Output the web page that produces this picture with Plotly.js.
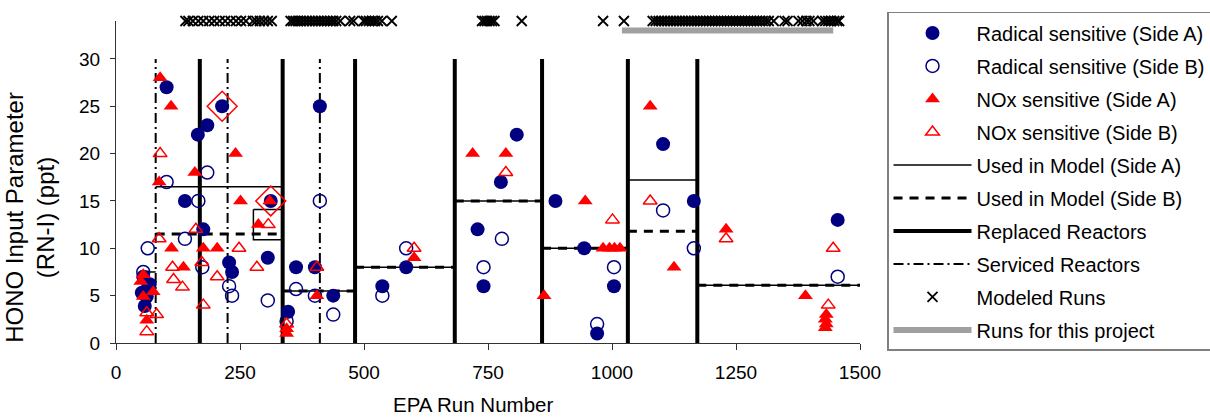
<!DOCTYPE html>
<html>
<head>
<meta charset="utf-8">
<script src="https://cdn.plot.ly/plotly-3.0.1.min.js"></script>
<style>
  html, body { margin: 0; padding: 0; background: #fff; }
  #chart { width: 1210px; height: 417px; }
</style>
</head>
<body>
<div id="chart"></div>
<script>
// HONO input parameter (ppt) by EPA run number: [run, value]
const radicalA = [[55,7],[68,6.2],[52,5.3],[62,4.9],[58,3.9],[64,5.8],
  [102,27],[214,25],[184,23],[165,22],[139,15],[312,15],[176,12],[228,8.5],[234,7.5],
  [306,9],[347,3.3],[363,8],[411,25],[401,8],[438,5],[537,6],[585,8],[808,22],[776,17],
  [729,12],[741,6],[886,15],[944,10],[1004,6],[970,1],[1103,21],[1165,15],[1455,13]];
const radicalB = [[102,17],[184,18],[166,15],[139,11],[64,10],[55,7.5],[174,8],[228,6],
  [234,5],[306,4.5],[344,2.3],[363,5.7],[411,15],[401,5],[438,3],[537,5],[585,10],
  [741,8],[778,11],[1004,8],[970,2],[1103,14],[1165,10],[1455,7]];
const noxA = [[55,7.2],[75,5.4],[55,4.9],[62,2.4],[50,6.5],
  [89,28],[111,25],[241,20],[159,18],[87,17],[251,15],[310,15],[287,12.5],[112,10],
  [176,10],[204,10],[136,8],[405,5],[344,1.5],[344,1],[601,9],[719,20],[786,20],[863,5],
  [946,15],[982,10],[995,10],[1005,10],[1016,10],[1077,25],[1125,8],[1230,12],[1390,5],
  [1432,3],[1430,2.5],[1432,2],[1430,1.6]];
const noxB = [[89,20],[87,11],[161,12],[248,10],[114,8],[116,6.7],[134,5.9],[173,8.5],
  [204,7],[176,4],[284,8],[307,12.5],[344,2],[405,8],[62,3.2],[82,3],[62,1.2],[601,10],
  [786,18],[1001,13],[1077,15],[1230,11],[1446,10],[1436,4]];
const highlighted = [[214,25],[312,15]];

// Values used in the model for each reactor period: [first run, last run, HONO]
const modelSideA = [[50,80,7.5],[80,336,16.5],[336,482,5.5],[482,683,8],[683,859,15],
  [859,1032,10],[1032,1172,17.2],[1172,1500,6.1]];
const modelSideAStep = [[277,14.1],[336,14.1],[336,10.9],[277,10.9],[277,14.1]];
const modelSideB = [[50,80,7.5],[80,336,11.5],[336,482,5.5],[482,683,8],[683,859,15],
  [859,1032,10],[1032,1172,11.8],[1172,1500,6.1]];

// Reactor events (run numbers)
const replacedReactors = [169, 336, 482, 683, 859, 1032, 1172];
const servicedReactors = [80, 225, 411];

// Runs that were modeled, and the span of runs for this project
const modeledRuns = [140,146,155,166,176,188,198,209,220,231,242,252,262,
  276,283,290,298,306,314,
  352,357,362,367,372,378,384,390,396,402,408,414,420,426,432,438,444,452,472,479,499,
  504,510,516,522,528,536,556,
  738,743,748,753,758,763,818,982,1024,
  1082,1088,1094,1100,1106,1112,1118,1124,1130,1136,1142,1148,1154,1160,1166,1172,1178,
  1184,1190,1196,1202,1208,1214,1220,1226,1232,1238,1244,1250,1256,1262,1268,1274,1280,
  1286,1292,1298,1304,1310,1316,1326,1348,1354,1376,1384,1392,1398,1406,1424,1430,1436,
  1442,1448,1454,1458];
const projectRuns = [1020, 1446];
const modeledLevel = 34;
const projectLevel = 33;
const reactorLineTop = 30;

const xs = a => a.map(p => p[0]);
const ys = a => a.map(p => p[1]);

function segments(list) {
  const x = [], y = [];
  list.forEach(s => { x.push(s[0], s[1], null); y.push(s[2], s[2], null); });
  return {x, y};
}
function verticals(list) {
  const x = [], y = [];
  list.forEach(v => { x.push(v, v, null); y.push(0, reactorLineTop, null); });
  return {x, y};
}

const NAVY = '#000080', RED = '#ff0000';
const segA = segments(modelSideA);
const stepA = {x: xs(modelSideAStep), y: ys(modelSideAStep)};
const segB = segments(modelSideB);
const rep = verticals(replacedReactors);
const serv = verticals(servicedReactors);

const traces = [
  {name: 'Serviced Reactors', x: serv.x, y: serv.y, mode: 'lines', legendrank: 8, legendgroup: 'g8',
   line: {color: '#000', width: 2, dash: '10px,4px,2px,4px'}, hoverinfo: 'skip'},
  {name: 'Replaced Reactors', x: rep.x, y: rep.y, mode: 'lines', legendrank: 7, legendgroup: 'g7',
   line: {color: '#000', width: 4}, hoverinfo: 'skip'},
  {name: 'Used in Model (Side A)', x: segA.x.concat([null], stepA.x), y: segA.y.concat([null], stepA.y),
   mode: 'lines', legendrank: 5, legendgroup: 'g5', line: {color: '#000', width: 1.5}},
  {name: 'Used in Model (Side B)', x: segB.x, y: segB.y, mode: 'lines', legendrank: 6, legendgroup: 'g6',
   line: {color: '#000', width: 3, dash: '9px,7px'}},
  {name: 'Runs for this project', x: projectRuns, y: projectRuns.map(() => projectLevel), mode: 'lines',
   legendrank: 10, legendgroup: 'g10', line: {color: '#a0a0a0', width: 6}},
  {name: 'Modeled Runs', x: modeledRuns, y: modeledRuns.map(() => modeledLevel), mode: 'markers',
   legendrank: 9, legendgroup: 'g9', cliponaxis: false,
   marker: {symbol: 'x-thin-open', size: 10, color: '#000', line: {color: '#000', width: 1.8}}},
  {name: 'Radical sensitive (Side A)', x: xs(radicalA), y: ys(radicalA), mode: 'markers',
   legendrank: 1, legendgroup: 'g1', marker: {symbol: 'circle', size: 14, color: NAVY}},
  {name: 'Radical sensitive (Side B)', x: xs(radicalB), y: ys(radicalB), mode: 'markers',
   legendrank: 2, legendgroup: 'g2',
   marker: {symbol: 'circle-open', size: 13, color: NAVY, line: {color: NAVY, width: 1.5}}},
  {name: 'NOx sensitive (Side A)', x: xs(noxA), y: ys(noxA), mode: 'markers',
   legendrank: 3, legendgroup: 'g3', marker: {symbol: 'triangle-up', size: 13, color: RED}},
  {name: 'NOx sensitive (Side B)', x: xs(noxB), y: ys(noxB), mode: 'markers',
   legendrank: 4, legendgroup: 'g4',
   marker: {symbol: 'triangle-up-open', size: 12, color: RED, line: {color: RED, width: 1.5}}},
  {name: 'Highlighted', x: xs(highlighted), y: ys(highlighted), mode: 'markers', showlegend: false,
   marker: {symbol: 'diamond-open', size: 23, color: RED, line: {color: RED, width: 1.5}}}
];

const FONT = 'Arial, "Liberation Sans", sans-serif';

const layout = {
  width: 1210, height: 417,
  paper_bgcolor: '#fff', plot_bgcolor: '#fff',
  font: {family: FONT, size: 19, color: '#000'},
  margin: {l: 116, r: 350, t: 21, b: 74, autoexpand: false},
  showlegend: true,
  xaxis: {
    range: [0, 1500], tickvals: [0, 250, 500, 750, 1000, 1250, 1500],
    ticks: 'outside', ticklen: 6, tickcolor: '#333', tickwidth: 1,
    showline: true, linecolor: '#333', linewidth: 1, showgrid: false, zeroline: false,
    tickfont: {size: 19}, ticklabelstandoff: 6
  },
  yaxis: {
    range: [0, 34], tickvals: [0, 5, 10, 15, 20, 25, 30],
    ticks: 'outside', ticklen: 5, tickcolor: '#333', tickwidth: 1,
    showline: true, linecolor: '#333', linewidth: 1, showgrid: false, zeroline: false,
    tickfont: {size: 19}, ticklabelstandoff: 6
  },
  legend: {
    x: 1.0363, y: 1.028, xanchor: 'left', yanchor: 'top',
    bordercolor: '#808080', borderwidth: 1.5, bgcolor: '#fff',
    font: {size: 20}, traceorder: 'grouped', tracegroupgap: 4, itemwidth: 78,
    maxheight: 400
  },
  annotations: [
    {text: 'EPA Run Number', xref: 'paper', yref: 'paper', x: 0.48, y: -0.19,
     xanchor: 'center', yanchor: 'middle', showarrow: false, font: {size: 20.5}},
    {text: 'HONO Input Parameter<br>(RN-I) (ppt)', xref: 'paper', yref: 'paper', x: -0.115, y: 0.39,
     xanchor: 'center', yanchor: 'middle', showarrow: false, textangle: -90, font: {size: 24}}
  ]
};

Plotly.newPlot('chart', traces, layout, {displayModeBar: false, staticPlot: true});
</script>
</body>
</html>
